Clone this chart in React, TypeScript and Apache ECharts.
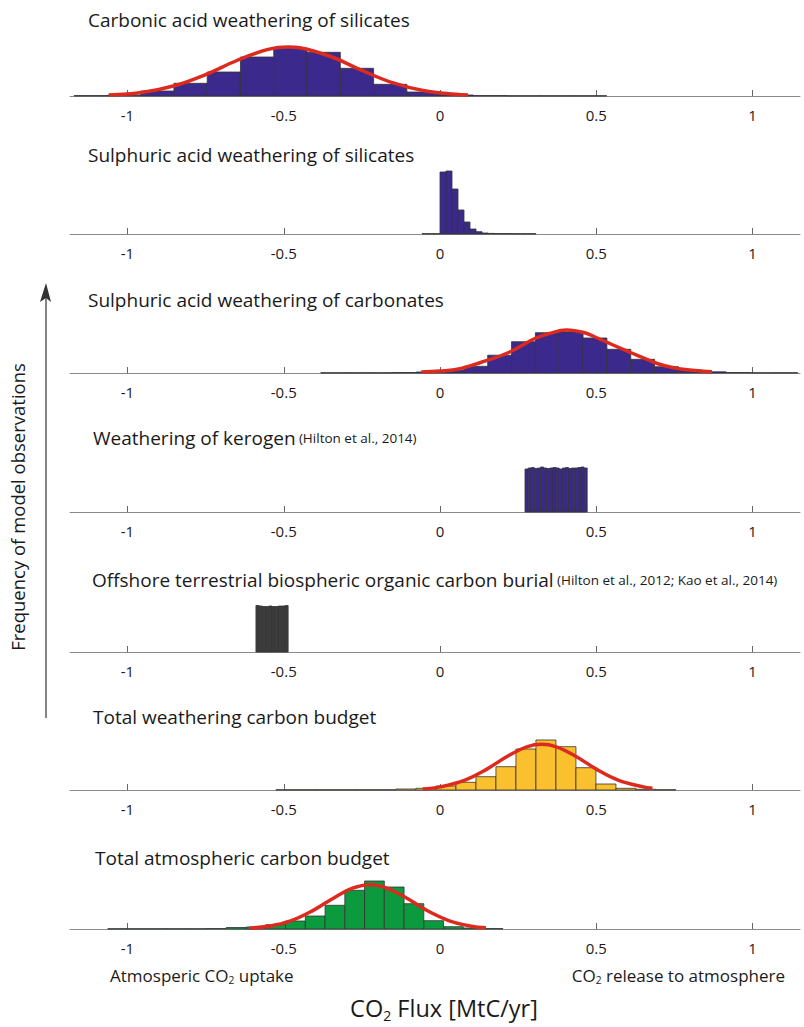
import React, { useEffect, useRef } from "react";
import * as echarts from "echarts";

// ---------- data ----------
const xTicks = [-1, -0.5, 0, 0.5, 1];

const carbonicBinStart = -1.171;
const carbonicBinWidth = 0.1065;
const carbonicCounts = [0.4, 0.8, 5, 12.7, 24, 39, 47.7, 43.7, 27.7, 11.7, 4, 1, 0.5, 0.3, 0.3, 0.3];
const carbonicFitX = [-1.06, -0.95, -0.85, -0.75, -0.65, -0.55, -0.485, -0.45, -0.35, -0.25, -0.15, -0.05, 0.05, 0.09];
const carbonicFitY = [1.0, 3.8, 10.2, 21.4, 35.5, 46.6, 49, 48.3, 39.5, 25.6, 13.1, 5.3, 1.7, 1.0];

const sulphSilBinStart = -0.0576;
const sulphSilBinWidth = 0.0192;
const sulphSilCounts = [0.3, 0.3, 0.3, 62, 63, 45, 24, 12, 5, 2.3, 1, 0.6, 0.5, 0.4, 0.4, 0.3, 0.3, 0.3, 0.3];

const sulphCarbBinStart = -0.3815;
const sulphCarbBinWidth = 0.0763;
const sulphCarbCounts = [0.3, 0.3, 0.3, 0.5, 1.0, 2.7, 6.7, 17.8, 31.3, 40.3, 41, 35, 23.7, 13.7, 6.3, 3, 1.2, 0.5, 0.3, 0.3];
const sulphCarbFitX = [-0.06, 0.0, 0.06, 0.13, 0.22, 0.3, 0.35, 0.405, 0.46, 0.5, 0.55, 0.61, 0.66, 0.7, 0.77, 0.87];
const sulphCarbFitY = [1.0, 2.0, 4.0, 10.5, 20.5, 34, 39.5, 43, 40.5, 35.5, 28.5, 20.5, 14, 9, 4, 1.2];

const kerogenBinStart = 0.272;
const kerogenBinWidth = 0.00995;
const kerogenCounts = [43, 44, 44.5, 43.5, 44, 45, 44, 43.5, 44, 44.5, 44, 43, 44, 44.5, 43.5, 44, 44, 44.5, 45, 44];

const burialBinStart = -0.589;
const burialBinWidth = 0.0103;
const burialCounts = [46.5, 46, 45.5, 45.5, 46, 45.5, 45.5, 46, 46, 46.5];

const weatherBinStart = -0.525;
const weatherBinWidth = 0.064;
const weatherCounts = [0.3, 0.3, 0.3, 0.3, 0.3, 0.3, 1.0, 1.7, 4, 7.7, 13.3, 23.3, 41, 50, 43.3, 22.3, 6, 1.7, 0.7, 0.3];
const weatherFitX = [-0.055, 0.0, 0.08, 0.15, 0.22, 0.28, 0.325, 0.37, 0.43, 0.5, 0.57, 0.65, 0.68];
const weatherFitY = [1.1, 3.1, 9.9, 20.9, 34.5, 43.4, 45.7, 43.4, 34.5, 20.9, 9.9, 3.1, 1.8];

const atmosBinStart = -1.063;
const atmosBinWidth = 0.0632;
const atmosCounts = [0.3, 0.3, 0.3, 0.3, 0.3, 0.5, 1.5, 2, 4.3, 8, 13, 23.7, 38.7, 48, 42, 25.3, 8.3, 2.3, 1, 0.5];
const atmosFitX = [-0.61, -0.55, -0.48, -0.41, -0.34, -0.28, -0.224, -0.17, -0.11, -0.04, 0.03, 0.1, 0.147];
const atmosFitY = [0.9, 2.7, 7.9, 17.9, 31.1, 40.8, 44.3, 40.9, 31.5, 18.2, 8.2, 2.8, 1.2];

const titles = [
  "Carbonic acid weathering of silicates",
  "Sulphuric acid weathering of silicates",
  "Sulphuric acid weathering of carbonates",
  "Weathering of kerogen",
  "Offshore terrestrial biospheric organic carbon burial",
  "Total weathering carbon budget",
  "Total atmospheric carbon budget",
];
const notes = ["", "", "", "(Hilton et al., 2014)", "(Hilton et al., 2012; Kao et al., 2014)", "", ""];

// ---------- styling / layout ----------
const PURPLE = "#3b2a8c";
const ORANGE = "#fbc02d";
const GREEN = "#0b9a3e";
const DARK = "#3c3c3c";
const RED = "#dd2a1e";
const FONT = "'Open Sans', 'Noto Sans', sans-serif";
const TEXT = "#1a1a1a";

const panels = [
  { start: carbonicBinStart, width: carbonicBinWidth, counts: carbonicCounts, fitX: carbonicFitX, fitY: carbonicFitY, color: PURPLE },
  { start: sulphSilBinStart, width: sulphSilBinWidth, counts: sulphSilCounts, fitX: null, fitY: null, color: PURPLE },
  { start: sulphCarbBinStart, width: sulphCarbBinWidth, counts: sulphCarbCounts, fitX: sulphCarbFitX, fitY: sulphCarbFitY, color: PURPLE },
  { start: kerogenBinStart, width: kerogenBinWidth, counts: kerogenCounts, fitX: null, fitY: null, color: PURPLE },
  { start: burialBinStart, width: burialBinWidth, counts: burialCounts, fitX: null, fitY: null, color: DARK },
  { start: weatherBinStart, width: weatherBinWidth, counts: weatherCounts, fitX: weatherFitX, fitY: weatherFitY, color: ORANGE },
  { start: atmosBinStart, width: atmosBinWidth, counts: atmosCounts, fitX: atmosFitX, fitY: atmosFitY, color: GREEN },
];

const baselines = [96, 234, 373, 512, 652, 790, 929];
const titleY = [20, 155, 300, 438, 580, 717, 858];
const titleX = [88, 88, 88, 93, 92, 93, 95];
const GRID_H = 70;

export default function App() {
  const ref = useRef<HTMLDivElement>(null);
  useEffect(() => {
    document.body.style.margin = "0";
    const chart = echarts.init(ref.current!, undefined, { renderer: "svg" });

    const grids: any[] = [];
    const xAxes: any[] = [];
    const yAxes: any[] = [];
    const series: any[] = [];

    panels.forEach((p, i) => {
      grids.push({ left: 70, width: 730, top: baselines[i] - GRID_H, height: GRID_H });
      xAxes.push({
        type: "value",
        gridIndex: i,
        min: -1.184,
        max: 1.152,
        axisLine: { show: true, lineStyle: { color: "#8a8a8a", width: 1 } },
        axisTick: { show: true, inside: true, length: 6, customValues: xTicks, lineStyle: { color: "#666" } },
        axisLabel: {
          show: true,
          customValues: xTicks,
          formatter: (v: number) => String(v),
          fontSize: 15,
          color: TEXT,
          margin: 11,
          fontFamily: FONT,
        },
        splitLine: { show: false },
      });
      yAxes.push({ type: "value", gridIndex: i, min: 0, max: GRID_H, show: false, splitLine: { show: false } });

      const bins = p.counts.map((c, k) => [p.start + k * p.width, p.start + (k + 1) * p.width, c]);
      const color = p.color;
      series.push({
        type: "custom",
        xAxisIndex: i,
        yAxisIndex: i,
        silent: true,
        z: 2,
        encode: { x: [0, 1], y: 2 },
        data: bins,
        renderItem: (_params: any, api: any) => {
          const a = api.coord([api.value(0), 0]);
          const b = api.coord([api.value(1), api.value(2)]);
          return {
            type: "rect",
            shape: { x: a[0], y: b[1], width: b[0] - a[0], height: a[1] - b[1] },
            style: { fill: color, stroke: "#333", lineWidth: 0.8 },
          };
        },
      });
      if (p.fitX && p.fitY) {
        const fy = p.fitY;
        series.push({
          type: "line",
          xAxisIndex: i,
          yAxisIndex: i,
          silent: true,
          z: 3,
          smooth: 0.4,
          symbol: "none",
          lineStyle: { color: RED, width: 3.5 },
          data: p.fitX.map((x, k) => [x, fy[k]]),
        });
      }
    });

    const graphic: any[] = [];
    titles.forEach((t, i) => {
      const txt = notes[i] ? `{m|${t}} {n|${notes[i]}}` : `{m|${t}}`;
      graphic.push({
        type: "text",
        x: titleX[i],
        y: titleY[i],
        style: {
          text: txt,
          verticalAlign: "middle",
          align: "left",
          fill: TEXT,
          rich: {
            m: { fontSize: 19, fontFamily: FONT, fill: TEXT },
            n: { fontSize: 13.5, fontFamily: FONT, fill: TEXT },
          },
        },
      });
    });

    // y label + arrow
    graphic.push({
      type: "text",
      x: 17,
      y: 507,
      rotation: Math.PI / 2,
      style: {
        text: "Frequency of model observations",
        align: "center",
        verticalAlign: "middle",
        fontSize: 18.5,
        fontFamily: FONT,
        fill: TEXT,
      },
    });
    graphic.push({
      type: "line",
      shape: { x1: 46, y1: 718, x2: 46, y2: 296 },
      style: { stroke: "#333", lineWidth: 1.2 },
    });
    graphic.push({
      type: "polygon",
      shape: { points: [[46, 283], [40, 302], [46, 298], [51, 302]] },
      style: { fill: "#333" },
    });

    const subRich = (size: number) => ({
      a: { fontSize: size, fontFamily: FONT, fill: TEXT, lineHeight: size + 4, verticalAlign: "top" },
      s: { fontSize: size * 0.6, fontFamily: FONT, fill: TEXT, lineHeight: size * 0.6 + 2, verticalAlign: "top", padding: [size * 0.5, 0, 0, 0] },
    });

    graphic.push({
      type: "text",
      x: 110,
      y: 977,
      style: { text: "{a|Atmosperic CO}{s|2}{a| uptake}", align: "left", verticalAlign: "middle", rich: subRich(17) },
    });
    graphic.push({
      type: "text",
      x: 785,
      y: 977,
      style: { text: "{a|CO}{s|2}{a| release to atmosphere}", align: "right", verticalAlign: "middle", rich: subRich(17) },
    });
    graphic.push({
      type: "text",
      x: 444,
      y: 1010,
      style: { text: "{a|CO}{s|2}{a| Flux [MtC/yr]}", align: "center", verticalAlign: "middle", rich: subRich(23.5) },
    });

    chart.setOption({
      animation: false,
      backgroundColor: "#ffffff",
      grid: grids,
      xAxis: xAxes,
      yAxis: yAxes,
      series,
      graphic,
    });
    return () => chart.dispose();
  }, []);
  return <div ref={ref} style={{ width: 804, height: 1027 }} />;
}
